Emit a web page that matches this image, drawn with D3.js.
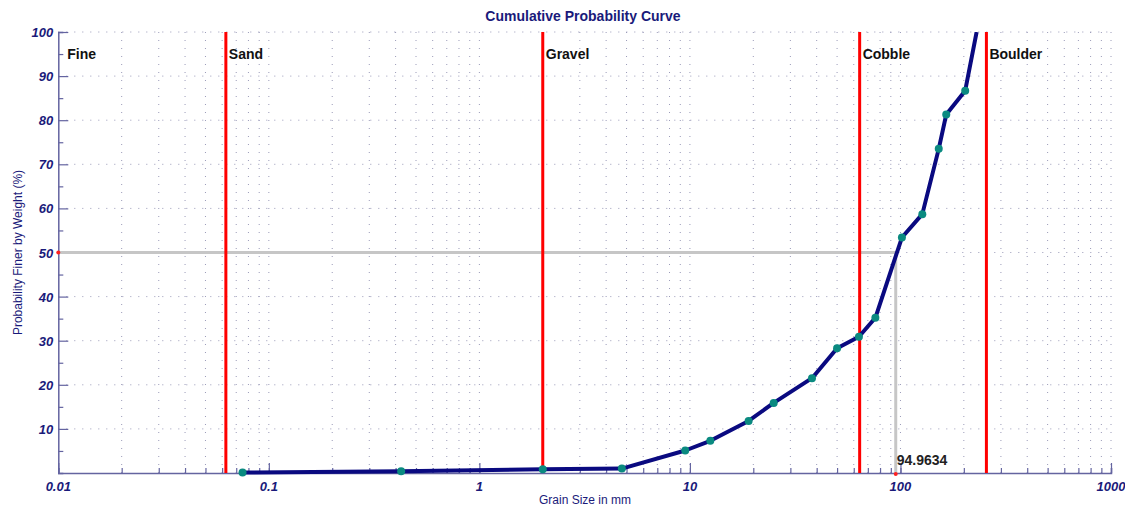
<!DOCTYPE html>
<html>
<head>
<meta charset="utf-8">
<script src="https://cdn.jsdelivr.net/npm/d3@7"></script>
<style>
  body { margin: 0; background: #fff; }
  text { font-family: "Liberation Sans", Arial, sans-serif; }
</style>
</head>
<body>
<script>
// grain size (mm) and cumulative percent finer
var sizes = [0.075, 0.425, 2, 4.75, 9.5, 12.5, 19, 25, 38, 50, 63.5, 76, 101.6, 127, 152, 165, 203, 230];
var finer = [0.1, 0.4, 0.85, 1.0, 5.1, 7.3, 11.8, 15.9, 21.5, 28.3, 30.9, 35.2, 53.4, 58.7, 73.5, 81.3, 86.7, 100];

// class boundaries
var classNames = ['Fine', 'Sand', 'Gravel', 'Cobble', 'Boulder'];
var classStarts = [0.01, 0.0625, 2, 64, 256];

var xTicks = [0.01, 0.1, 1, 10, 100, 1000];
var yTicks = [10, 20, 30, 40, 50, 60, 70, 80, 90, 100];
var d50 = 94.9634;

var width = 1125, height = 508;
var margin = {left: 58.3, right: 14, top: 32, bottom: 35};

var svg = d3.select('body').append('svg')
  .attr('width', width)
  .attr('height', height);

var x = d3.scaleLog()
  .domain([0.01, 1000])
  .range([margin.left, width - margin.right]);

var y = d3.scaleLinear()
  .domain([0, 100])
  .range([height - margin.bottom, margin.top]);

var navy = '#1a1a7a';
var axisColor = '#6464a0';
var gridColor = '#9a9ab8';

// minor log ticks
var minorX = [];
for (var e = -2; e < 3; e++) {
  for (var m = 1; m < 10; m++) {
    minorX.push(m * Math.pow(10, e));
  }
}
minorX.push(1000);

// grid
var grid = svg.append('g');
grid.selectAll('line.vg')
  .data(minorX.filter(function(d){ return d > 0.01; }))
  .enter().append('line')
  .attr('x1', function(d){ return x(d); })
  .attr('x2', function(d){ return x(d); })
  .attr('y1', y(0))
  .attr('y2', y(100))
  .attr('stroke', gridColor)
  .attr('stroke-width', 1)
  .attr('stroke-dasharray', '1,7');

grid.selectAll('line.hg')
  .data(yTicks)
  .enter().append('line')
  .attr('x1', x(0.01))
  .attr('x2', x(1000))
  .attr('y1', function(d){ return y(d); })
  .attr('y2', function(d){ return y(d); })
  .attr('stroke', gridColor)
  .attr('stroke-width', 1)
  .attr('stroke-dasharray', '1,7');

// axes: ticks drawn inward
var xAxis = d3.axisTop(x)
  .tickValues(minorX)
  .tickSize(5)
  .tickFormat('');
svg.append('g')
  .attr('transform', 'translate(0,' + y(0) + ')')
  .call(xAxis)
  .call(function(g){
    g.selectAll('line').attr('stroke', axisColor).attr('stroke-width', 1.2);
    g.select('.domain').attr('stroke', axisColor).attr('stroke-width', 1.5);
  });

svg.append('g')
  .attr('transform', 'translate(0,' + y(0) + ')')
  .call(d3.axisTop(x).tickValues(xTicks).tickSize(10).tickFormat(''))
  .call(function(g){
    g.selectAll('line').attr('stroke', axisColor).attr('stroke-width', 1.2);
    g.select('.domain').remove();
  });

svg.selectAll('text.xl')
  .data(xTicks)
  .enter().append('text')
  .attr('x', function(d){ return x(d); })
  .attr('y', y(0) + 18)
  .attr('text-anchor', 'middle')
  .attr('fill', navy)
  .style('font-size', '13px')
  .style('font-weight', 'bold')
  .style('font-style', 'italic')
  .text(function(d){ return d; });

svg.append('g')
  .attr('transform', 'translate(' + x(0.01) + ',0)')
  .call(d3.axisRight(y).tickValues(d3.range(5, 100, 10)).tickSize(5).tickFormat(''))
  .call(function(g){
    g.selectAll('line').attr('stroke', axisColor).attr('stroke-width', 1.2);
    g.select('.domain').attr('stroke', axisColor).attr('stroke-width', 1.5);
  });

svg.append('g')
  .attr('transform', 'translate(' + x(0.01) + ',0)')
  .call(d3.axisRight(y).tickValues(yTicks).tickSize(10).tickFormat(''))
  .call(function(g){
    g.selectAll('line').attr('stroke', axisColor).attr('stroke-width', 1.2);
    g.select('.domain').remove();
  });

svg.selectAll('text.yl')
  .data(yTicks)
  .enter().append('text')
  .attr('x', x(0.01) - 5)
  .attr('y', function(d){ return y(d) + 5; })
  .attr('text-anchor', 'end')
  .attr('fill', navy)
  .style('font-size', '13px')
  .style('font-weight', 'bold')
  .style('font-style', 'italic')
  .text(function(d){ return d; });

// d50 guide lines
svg.append('path')
  .attr('d', 'M' + x(0.01) + ',' + y(50) + 'H' + x(d50) + 'V' + y(0))
  .attr('fill', 'none')
  .attr('stroke', '#c6c6c6')
  .attr('stroke-width', 3);

svg.append('circle')
  .attr('cx', x(0.01)).attr('cy', y(50)).attr('r', 2)
  .attr('fill', '#ff2020');
svg.append('circle')
  .attr('cx', x(d50)).attr('cy', y(0) + 1).attr('r', 2)
  .attr('fill', '#ff2020');

svg.append('text')
  .attr('x', x(d50) + 1)
  .attr('y', y(0) - 8)
  .attr('fill', '#222')
  .style('font-size', '14px')
  .style('font-weight', 'bold')
  .text(d50);

// class boundaries
svg.selectAll('line.cls')
  .data(classStarts.slice(1))
  .enter().append('line')
  .attr('x1', function(d){ return x(d); })
  .attr('x2', function(d){ return x(d); })
  .attr('y1', y(0))
  .attr('y2', y(100))
  .attr('stroke', '#ff0000')
  .attr('stroke-width', 3);

svg.selectAll('text.cls')
  .data(classNames)
  .enter().append('text')
  .attr('x', function(d, i){ return x(classStarts[i]) + (i == 0 ? 9 : 3); })
  .attr('y', 59)
  .attr('fill', '#111')
  .style('font-size', '14px')
  .style('font-weight', 'bold')
  .text(function(d){ return d; });

// curve
var pts = sizes.map(function(s, i){ return {s: s, p: finer[i]}; });

svg.append('defs').append('clipPath').attr('id', 'plot')
  .append('rect')
  .attr('x', x(0.01)).attr('y', y(100))
  .attr('width', x(1000) - x(0.01))
  .attr('height', y(0) - y(100) + 10);

var line = d3.line()
  .x(function(d){ return x(d.s); })
  .y(function(d){ return y(d.p); });

svg.append('path')
  .datum(pts)
  .attr('d', line)
  .attr('clip-path', 'url(#plot)')
  .attr('fill', 'none')
  .attr('stroke', '#0a0a80')
  .attr('stroke-width', 4)
  .attr('stroke-linejoin', 'round');

svg.selectAll('circle.pt')
  .data(pts.filter(function(d){ return d.p < 100; }))
  .enter().append('circle')
  .attr('cx', function(d){ return x(d.s); })
  .attr('cy', function(d){ return y(d.p); })
  .attr('r', 4)
  .attr('fill', '#0a8a80');

// titles
svg.append('text')
  .attr('x', 583)
  .attr('y', 21)
  .attr('text-anchor', 'middle')
  .attr('fill', navy)
  .style('font-size', '14px')
  .style('font-weight', 'bold')
  .text('Cumulative Probability Curve');

svg.append('text')
  .attr('x', 585)
  .attr('y', 504)
  .attr('text-anchor', 'middle')
  .attr('fill', navy)
  .style('font-size', '12px')
  .text('Grain Size in mm');

svg.append('text')
  .attr('transform', 'translate(22,' + y(50) + ') rotate(-90)')
  .attr('text-anchor', 'middle')
  .attr('fill', navy)
  .style('font-size', '12px')
  .text('Probability Finer by Weight (%)');
</script>
</body>
</html>
